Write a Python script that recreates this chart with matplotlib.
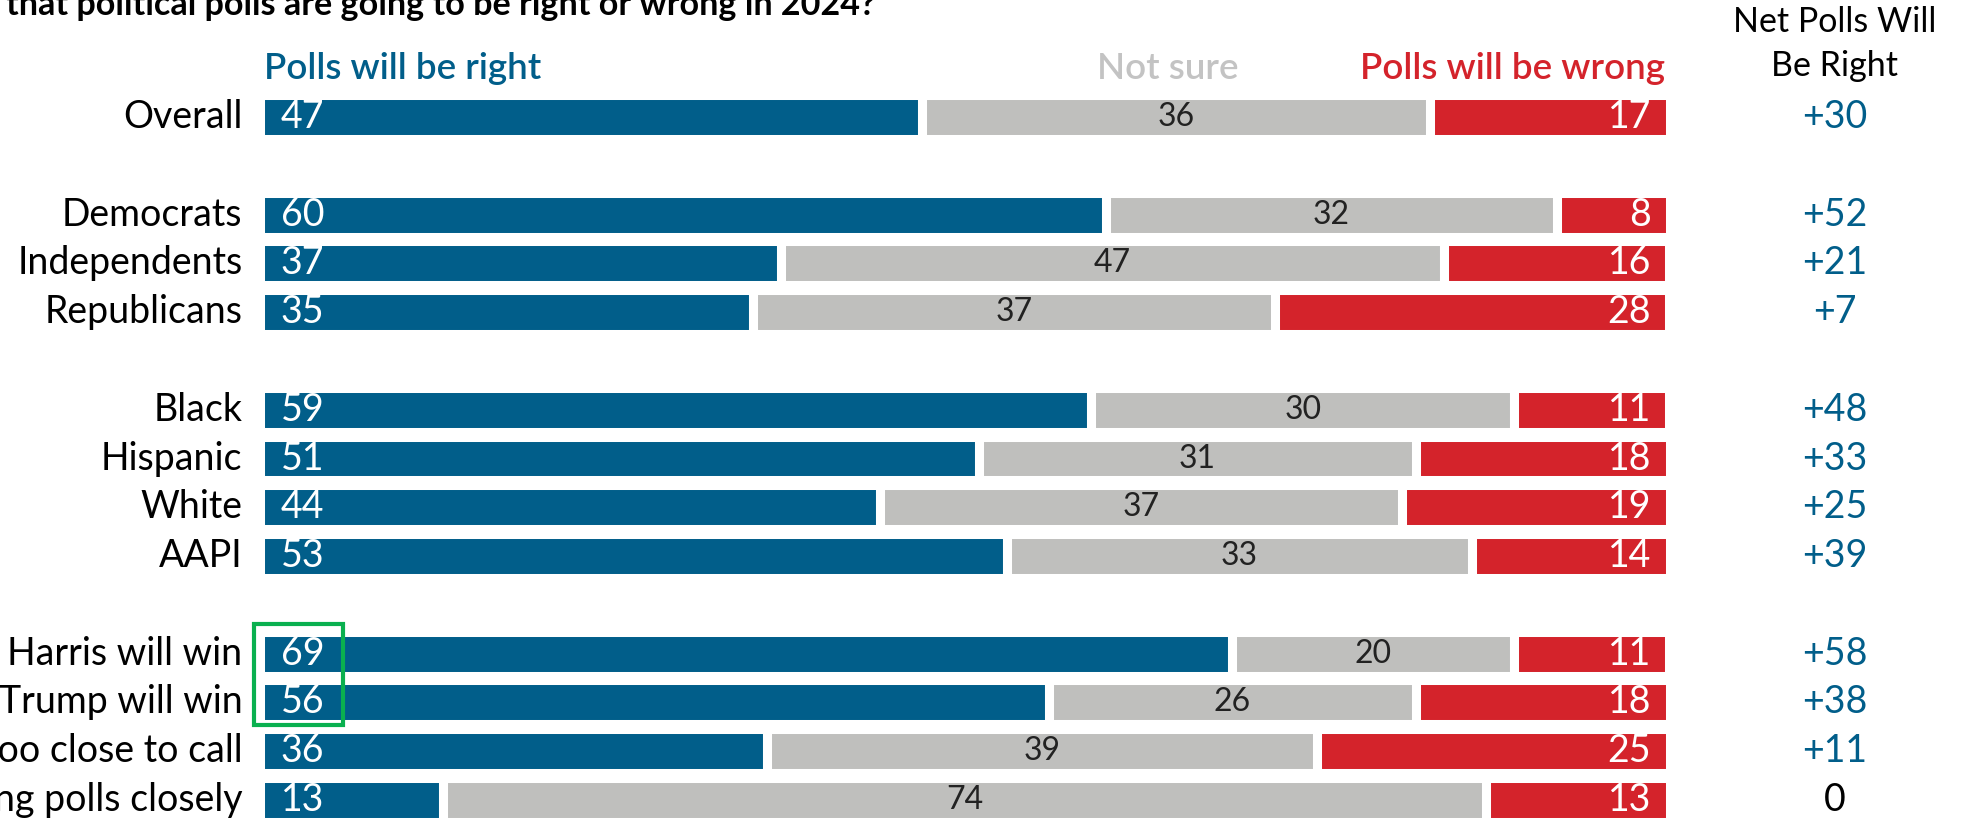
import matplotlib.pyplot as plt
from matplotlib.patches import Rectangle

plt.rcParams['font.family'] = ['Lato', 'DejaVu Sans']

groups = ['Overall',
          'Democrats', 'Independents', 'Republicans',
          'Black', 'Hispanic', 'White', 'AAPI',
          'Say Harris will win', 'Say Trump will win', 'Say too close to call',
          'Not following polls closely']
rows = [0, 2, 3, 4, 6, 7, 8, 9, 11, 12, 13, 14]
right = [47, 60, 37, 35, 59, 51, 44, 53, 69, 56, 36, 13]
unsure = [36, 32, 47, 37, 30, 31, 37, 33, 20, 26, 39, 74]
wrong = [17, 8, 16, 28, 11, 18, 19, 14, 11, 18, 25, 13]
net = ['+30', '+52', '+21', '+7', '+48', '+33', '+25', '+39', '+58', '+38', '+11', '0']

BLUE = '#015e8a'
GRAY = '#bfbfbd'
RED = '#d4232b'

W, H = 1970, 819
fig = plt.figure(figsize=(W / 100, H / 100), dpi=100)
ax = fig.add_axes([259.5 / W, 0, 1410 / W, 1])
ax.set_xlim(0, 100)
ax.set_ylim(14.39, -2.40)
ax.axis('off')

bh = 0.90
lw = 6.5
left2 = [a + b for a, b in zip(right, unsure)]
ax.barh(rows, right, height=bh, color=BLUE, edgecolor='white', linewidth=lw)
ax.barh(rows, unsure, left=right, height=bh, color=GRAY, edgecolor='white', linewidth=lw)
ax.barh(rows, wrong, left=left2, height=bh, color=RED, edgecolor='white', linewidth=lw)

fs = 27
for y, g, r, u, w, l2, n in zip(rows, groups, right, unsure, wrong, left2, net):
    ax.text(-1.2, y, g, ha='right', va='center', fontsize=27, color='black', clip_on=False)
    ax.text(1.5, y, str(r), ha='left', va='center', fontsize=fs, color='white')
    ax.text(r + u / 2, y, str(u), ha='center', va='center', fontsize=23, color='#222222')
    ax.text(98.7, y, str(w), ha='right', va='center', fontsize=fs, color='white')
    ax.text(111.7, y, n, ha='center', va='center', fontsize=27,
            color='black' if n == '0' else BLUE, clip_on=False)

hy = -1.0
ax.text(0.3, hy, 'Polls will be right', ha='left', va='center', fontsize=26.5,
        fontweight='semibold', color=BLUE)
ax.text(64.4, hy, 'Not sure', ha='center', va='center', fontsize=26.5,
        fontweight='semibold', color='#c3c3c3')
ax.text(99.7, hy, 'Polls will be wrong', ha='right', va='center', fontsize=26.5,
        fontweight='semibold', color=RED)
ax.text(111.7, -1.50, 'Net Polls Will\nBe Right', ha='center', va='center',
        fontsize=24.5, linespacing=1.45, color='black', clip_on=False)

ax.add_patch(Rectangle((-0.4, 10.39), 6.3, 2.07, fill=False,
                       edgecolor='#0ab04f', linewidth=3, clip_on=False))

fig.text(6 / W, 1 - 15 / H, 'that political polls are going to be right or wrong in 2024?',
         ha='left', va='baseline', fontsize=24.6, fontweight='bold', color='black')

fig.savefig('out.png', dpi=100)
